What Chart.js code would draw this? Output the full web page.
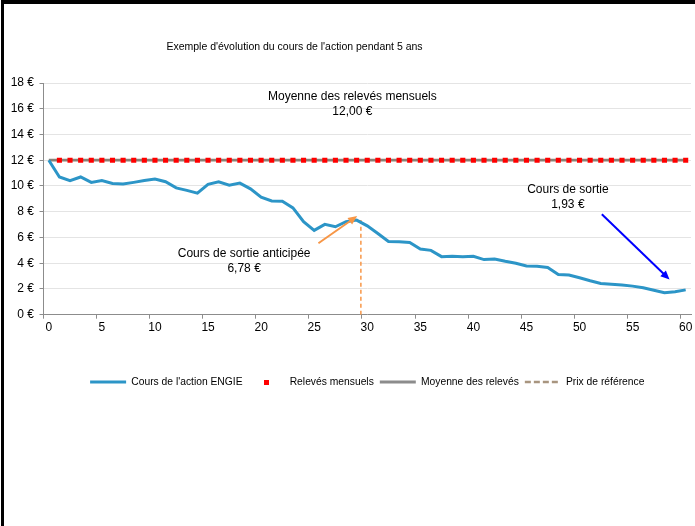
<!DOCTYPE html>
<html lang="fr">
<head>
  <meta charset="UTF-8" />
  <title>Exemple d'évolution du cours de l'action pendant 5 ans</title>
  <script src="https://cdn.jsdelivr.net/npm/chart.js"></script>
  <style>
    html, body { margin: 0; padding: 0; background: #fff; }
    .cadre { position: relative; width: 695px; height: 526px; overflow: hidden; }
    .cadre canvas { position: absolute; left: 0; top: 0; }
    .bord {
      position: absolute; left: 1px; top: 0; right: 0; bottom: 0;
      border-top: 4px solid #000; border-left: 3px solid #000;
      pointer-events: none;
    }
  </style>
</head>
<body>
  <div class="cadre">
    <canvas id="graphique" width="695" height="526"></canvas>
    <div class="bord"></div>
  </div>

  <script>
    // Données
    const mois = [0, 1, 2, 3, 4, 5, 6, 7, 8, 9, 10, 11, 12, 13, 14, 15, 16, 17, 18, 19, 20,
      21, 22, 23, 24, 25, 26, 27, 28, 29, 30, 31, 32, 33, 34, 35, 36, 37, 38, 39, 40,
      41, 42, 43, 44, 45, 46, 47, 48, 49, 50, 51, 52, 53, 54, 55, 56, 57, 58, 59, 60];
    const coursEngie = [12.00, 10.70, 10.42, 10.70, 10.28, 10.43, 10.20, 10.15, 10.28, 10.42, 10.54,
      10.33, 9.85, 9.66, 9.44, 10.13, 10.33, 10.06, 10.22, 9.78, 9.13,
      8.84, 8.81, 8.30, 7.22, 6.55, 7.02, 6.83, 7.22, 7.35, 6.90,
      6.31, 5.69, 5.66, 5.61, 5.10, 5.00, 4.51, 4.54, 4.50, 4.54,
      4.28, 4.33, 4.15, 3.99, 3.79, 3.76, 3.67, 3.13, 3.08, 2.87,
      2.64, 2.43, 2.37, 2.30, 2.22, 2.09, 1.90, 1.71, 1.78, 1.93];
    const moisReleves = [1, 2, 3, 4, 5, 6, 7, 8, 9, 10, 11, 12, 13, 14, 15, 16, 17, 18, 19, 20,
      21, 22, 23, 24, 25, 26, 27, 28, 29, 30, 31, 32, 33, 34, 35, 36, 37, 38, 39, 40,
      41, 42, 43, 44, 45, 46, 47, 48, 49, 50, 51, 52, 53, 54, 55, 56, 57, 58, 59, 60];
    const releves = [12, 12, 12, 12, 12, 12, 12, 12, 12, 12, 12, 12, 12, 12, 12, 12, 12, 12, 12, 12,
      12, 12, 12, 12, 12, 12, 12, 12, 12, 12, 12, 12, 12, 12, 12, 12, 12, 12, 12, 12,
      12, 12, 12, 12, 12, 12, 12, 12, 12, 12, 12, 12, 12, 12, 12, 12, 12, 12, 12, 12];
    const moyenneX = [0, 60];
    const moyenne = [12, 12];
    const prixRefX = [29.4, 29.4];
    const prixRef = [0, 7.35];

    const graduationsX = [0, 5, 10, 15, 20, 25, 30, 35, 40, 45, 50, 55, 60];
    const graduationsY = [0, 2, 4, 6, 8, 10, 12, 14, 16, 18];
    const nomsSeries = ["Cours de l'action ENGIE", 'Relevés mensuels', 'Moyenne des relevés', 'Prix de référence'];
    const titre = "Exemple d'évolution du cours de l'action pendant 5 ans";

    const police = "'Liberation Sans', Arial, sans-serif";
    Chart.defaults.font.family = police;
    Chart.defaults.color = '#000';

    const couleurs = {
      engie: '#2c95c7',
      releve: '#ff0000',
      moyenne: '#8a8075',
      moyenneLegende: '#8c8c8c',
      prix: '#f79646',
      prixLegende: '#a8957f',
      axe: '#8c8c8c',
      grille: '#e4e4e4'
    };

    // petit carré rouge pour la légende
    const carreRouge = document.createElement('canvas');
    carreRouge.width = 5;
    carreRouge.height = 5;
    const cc = carreRouge.getContext('2d');
    cc.fillStyle = couleurs.releve;
    cc.fillRect(0, 0, 5, 5);

    // Annotations (position en coordonnées du graphique)
    const notes = [
      { lignes: ['Moyenne des relevés mensuels', '12,00 €'], x: 28.6, y: 16.95 },
      { lignes: ['Cours de sortie anticipée', '6,78 €'], x: 18.4, y: 4.77 },
      { lignes: ['Cours de sortie', '1,93 €'], x: 48.9, y: 9.69 }
    ];
    const fleches = [
      { de: [25.4, 5.55], a: [29.05, 7.66], couleur: couleurs.prix },
      { de: [52.1, 7.81], a: [58.48, 2.73], couleur: '#0000ff' }
    ];

    function dessinerFleche(ctx, x1, y1, x2, y2, couleur) {
      const angle = Math.atan2(y2 - y1, x2 - x1);
      const longueur = 9;
      const demi = 4;
      ctx.save();
      ctx.strokeStyle = couleur;
      ctx.fillStyle = couleur;
      ctx.lineWidth = 2;
      ctx.beginPath();
      ctx.moveTo(x1, y1);
      ctx.lineTo(x2 - Math.cos(angle) * longueur * 0.8, y2 - Math.sin(angle) * longueur * 0.8);
      ctx.stroke();
      ctx.beginPath();
      ctx.moveTo(x2, y2);
      ctx.lineTo(x2 - Math.cos(angle) * longueur - Math.sin(angle) * demi,
                 y2 - Math.sin(angle) * longueur + Math.cos(angle) * demi);
      ctx.lineTo(x2 - Math.cos(angle) * longueur + Math.sin(angle) * demi,
                 y2 - Math.sin(angle) * longueur - Math.cos(angle) * demi);
      ctx.closePath();
      ctx.fill();
      ctx.restore();
    }

    const pluginNotes = {
      id: 'notes',
      afterDatasetsDraw(chart) {
        const { ctx, scales: { x, y } } = chart;
        fleches.forEach(f => {
          dessinerFleche(ctx,
            x.getPixelForValue(f.de[0]), y.getPixelForValue(f.de[1]),
            x.getPixelForValue(f.a[0]), y.getPixelForValue(f.a[1]), f.couleur);
        });
        ctx.save();
        ctx.fillStyle = '#000';
        ctx.font = '12px ' + police;
        ctx.textAlign = 'center';
        ctx.textBaseline = 'middle';
        notes.forEach(n => {
          const px = x.getPixelForValue(n.x);
          const py = y.getPixelForValue(n.y);
          n.lignes.forEach((t, i) => ctx.fillText(t, px, py + i * 15));
        });
        ctx.restore();
      },
      afterDraw(chart) {
        const ctx = chart.ctx;
        ctx.save();
        ctx.fillStyle = '#000';
        ctx.font = '10.5px ' + police;
        ctx.textAlign = 'center';
        ctx.textBaseline = 'middle';
        ctx.fillText(titre, 294.5, 47);
        ctx.restore();
      }
    };

    const ctx = document.getElementById('graphique').getContext('2d');
    new Chart(ctx, {
      type: 'line',
      data: {
        datasets: [
          {
            label: nomsSeries[0],
            data: mois.map((m, i) => ({ x: m, y: coursEngie[i] })),
            borderColor: couleurs.engie,
            borderWidth: 3,
            pointRadius: 0,
            tension: 0
          },
          {
            label: nomsSeries[1],
            data: moisReleves.map((m, i) => ({ x: m, y: releves[i] })),
            showLine: false,
            pointStyle: 'rect',
            pointRadius: 3.6,
            pointBorderWidth: 0,
            pointBackgroundColor: couleurs.releve,
            borderColor: couleurs.releve
          },
          {
            label: nomsSeries[2],
            data: moyenneX.map((m, i) => ({ x: m, y: moyenne[i] })),
            borderColor: couleurs.moyenne,
            borderWidth: 2.75,
            pointRadius: 0
          },
          {
            label: nomsSeries[3],
            data: prixRefX.map((m, i) => ({ x: m, y: prixRef[i] })),
            borderColor: couleurs.prix,
            borderWidth: 1.5,
            borderDash: [4, 3],
            pointRadius: 0
          }
        ]
      },
      options: {
        responsive: false,
        animation: false,
        events: [],
        layout: { padding: { top: 83, left: 0, right: 0.5, bottom: 128.75 } },
        plugins: {
          tooltip: { enabled: false },
          title: { display: false },
          legend: {
            position: 'bottom',
            fullSize: false,
            labels: {
              usePointStyle: true,
              pointStyleWidth: 36,
              padding: 6,
              color: '#000',
              font: { size: 10.3 },
              generateLabels: () => [
                { text: nomsSeries[0], pointStyle: 'line', strokeStyle: couleurs.engie, fillStyle: couleurs.engie, lineWidth: 3, lineDash: [], hidden: false, datasetIndex: 0 },
                { text: nomsSeries[1], pointStyle: carreRouge, strokeStyle: couleurs.releve, fillStyle: couleurs.releve, lineWidth: 0, hidden: false, datasetIndex: 1 },
                { text: nomsSeries[2], pointStyle: 'line', strokeStyle: couleurs.moyenneLegende, fillStyle: couleurs.moyenneLegende, lineWidth: 3, lineDash: [], hidden: false, datasetIndex: 2 },
                { text: nomsSeries[3], pointStyle: 'line', strokeStyle: couleurs.prixLegende, fillStyle: couleurs.prixLegende, lineWidth: 2.5, lineDash: [6, 3], hidden: false, datasetIndex: 3 }
              ]
            }
          }
        },
        scales: {
          x: {
            type: 'linear',
            min: -0.5,
            max: 60.5,
            afterBuildTicks: s => { s.ticks = graduationsX.map(v => ({ value: v - 0.5 })); },
            afterFit: s => { s.height = 56.25; },
            ticks: {
              autoSkip: false,
              maxRotation: 0,
              padding: 2,
              labelOffset: 5.33,
              font: { size: 12 },
              color: '#000',
              callback: v => String(Math.round(v + 0.5))
            },
            grid: { drawOnChartArea: false, tickLength: 4, tickColor: couleurs.axe },
            border: { color: couleurs.axe, width: 1 }
          },
          y: {
            min: 0,
            max: 18,
            afterBuildTicks: s => { s.ticks = graduationsY.map(v => ({ value: v })); },
            afterFit: s => { s.width = 43.5; },
            ticks: {
              padding: 5.5,
              font: { size: 12 },
              color: '#000',
              callback: v => v + ' €'
            },
            grid: { color: couleurs.grille, tickLength: 4, tickColor: couleurs.axe },
            border: { color: couleurs.axe, width: 1 }
          }
        }
      },
      plugins: [pluginNotes]
    });
  </script>
</body>
</html>
